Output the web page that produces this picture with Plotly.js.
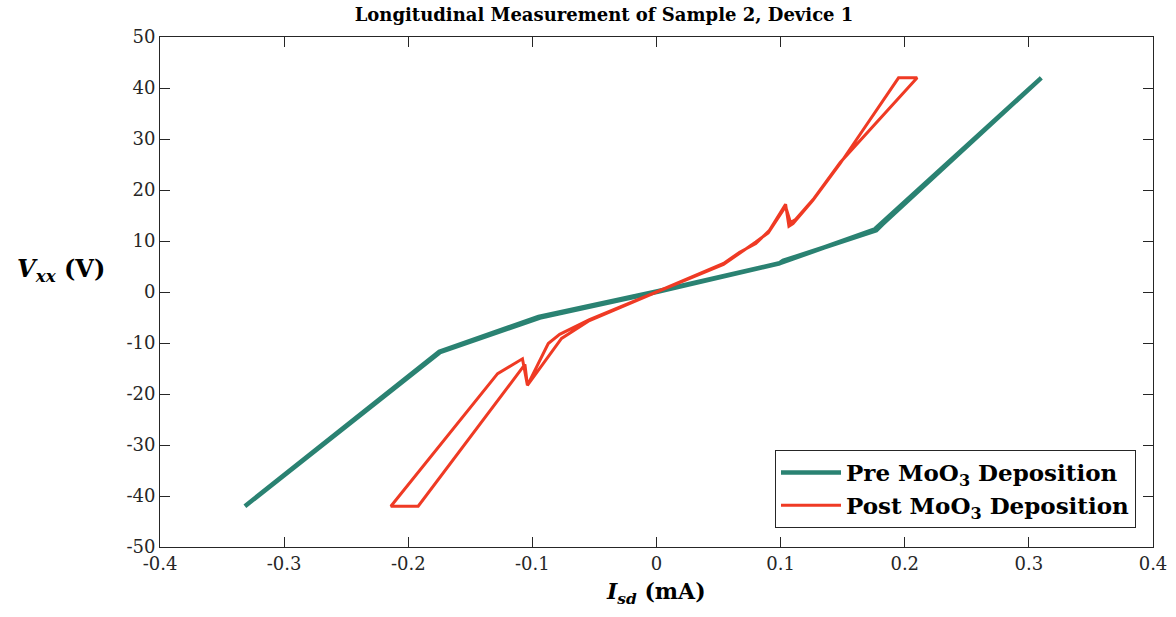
<!DOCTYPE html>
<html>
<head>
<meta charset="utf-8">
<script src="https://cdn.plot.ly/plotly-3.0.1.min.js"></script>
<style>html,body{margin:0;padding:0;background:#fff;}#chart{width:1176px;height:617px;}</style>
</head>
<body>
<div id="chart"></div>
<script>
// ---- data ----
var preI = [-0.3316, -0.1745, -0.094, 0, 0.099, 0.102, 0.177, 0.182, 0.31, 0.182, 0.176, 0.1, 0, -0.095, -0.175, -0.3316];
var preV = [-42.0, -11.8, -5.0, 0, 5.6, 6.1, 12.1, 13.3, 42.0, 13.6, 12.3, 5.7, 0.1, -4.9, -11.7, -42.0];

var postI = [0, 0.054, 0.067, 0.08, 0.091, 0.104, 0.1067, 0.110, 0.126, 0.148, 0.195, 0.21, 0.148, 0.127, 0.112, 0.108, 0.104, 0.09, 0.08, 0.054, 0,
             -0.054, -0.078, -0.0872, -0.104, -0.108, -0.128, -0.214, -0.192, -0.106, -0.104, -0.0765, -0.054, 0];
var postV = [0, 5.6, 7.8, 9.5, 12.1, 17.2, 12.9, 13.4, 18.0, 25.2, 42.0, 42.0, 25.4, 18.4, 14.2, 13.6, 16.8, 11.6, 9.8, 5.4, 0,
             -5.4, -8.3, -10.1, -18.3, -13.1, -16.0, -42.0, -42.0, -14.2, -18.3, -9.1, -5.6, 0];

var xTickVals = [-0.4, -0.3, -0.2, -0.1, 0, 0.1, 0.2, 0.3, 0.4];
var xTickText = ["-0.4", "-0.3", "-0.2", "-0.1", "0", "0.1", "0.2", "0.3", "0.4"];
var yTickVals = [-50, -40, -30, -20, -10, 0, 10, 20, 30, 40, 50];
var yTickText = ["-50", "-40", "-30", "-20", "-10", "0", "10", "20", "30", "40", "50"];

var seriesNames = ["<b>Pre MoO<sub>3</sub> Deposition</b>", "<b>Post MoO<sub>3</sub> Deposition</b>"];
var titleText = "<b>Longitudinal Measurement of Sample 2, Device 1</b>";
var xTitle = "<b><i>I</i><sub><i>sd</i></sub> (mA)</b>";
var yTitle = "<b><i>V</i><sub><i>xx</i></sub> (V)</b>";

// ---- layout geometry ----
var W = 1176, H = 617;
var L = 160, R = 1153, T = 37, B = 547;
function px2paperX(px) { return (px - L) / (R - L); }
function px2paperY(py) { return (B - py) / (B - T); }

var FONT = "DejaVu Serif, Liberation Serif, serif";
var AX = "#262626";

var traces = [
  { x: preI, y: preV, mode: "lines", name: seriesNames[0],
    line: { color: "#2a8272", width: 4.5 } },
  { x: postI, y: postV, mode: "lines", name: seriesNames[1],
    line: { color: "#ef3a24", width: 3 } }
];

var axisCommon = {
  showline: true, linecolor: AX, linewidth: 1, mirror: "ticks",
  ticks: "inside", ticklen: 10, tickwidth: 1, tickcolor: AX,
  showgrid: false, zeroline: false,
  tickfont: { family: FONT, size: 18, color: AX },
  tickmode: "array"
};

var layout = {
  width: W, height: H,
  paper_bgcolor: "#ffffff", plot_bgcolor: "#ffffff",
  margin: { l: L, r: W - R, t: T, b: H - B, pad: 0 },
  title: { text: titleText, font: { family: FONT, size: 18, color: "#000" },
           xref: "container", yref: "container", x: 604 / W, y: 1 - 15 / H,
           xanchor: "center", yanchor: "middle" },
  xaxis: Object.assign({}, axisCommon, {
    range: [-0.4, 0.4], tickvals: xTickVals, ticktext: xTickText
  }),
  yaxis: Object.assign({}, axisCommon, {
    range: [-50, 50], tickvals: yTickVals, ticktext: yTickText
  }),
  showlegend: true,
  legend: {
    x: px2paperX(1136), y: px2paperY(528), xanchor: "right", yanchor: "bottom",
    bgcolor: "#ffffff", bordercolor: AX, borderwidth: 1,
    font: { family: FONT, size: 23, color: "#000" },
    tracegroupgap: 0, itemwidth: 60
  },
  annotations: [
    { text: yTitle, xref: "paper", yref: "paper", x: px2paperX(61), y: px2paperY(270),
      xanchor: "center", yanchor: "middle", showarrow: false,
      font: { family: FONT, size: 24, color: "#000" } },
    { text: xTitle, xref: "paper", yref: "paper", x: px2paperX(656), y: px2paperY(593),
      xanchor: "center", yanchor: "middle", showarrow: false,
      font: { family: FONT, size: 22, color: "#000" } }
  ]
};

Plotly.newPlot("chart", traces, layout, { staticPlot: true, displayModeBar: false });
</script>
</body>
</html>
